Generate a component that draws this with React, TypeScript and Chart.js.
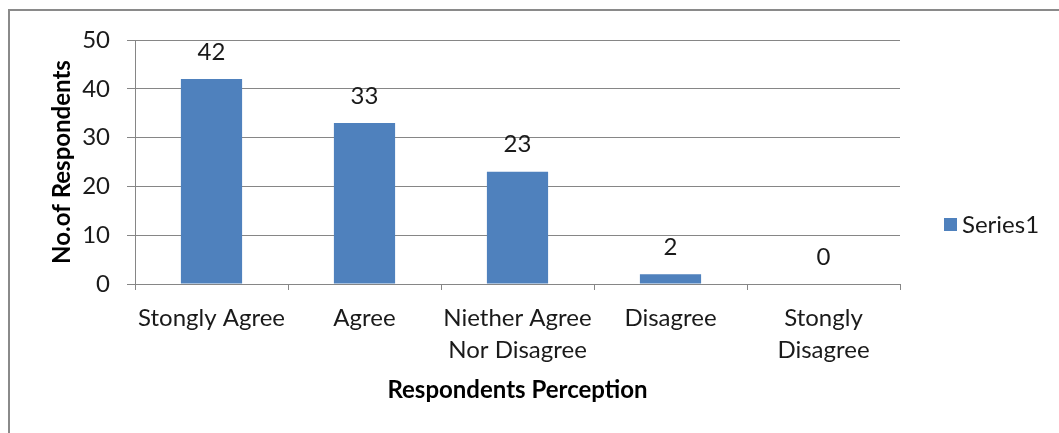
import React, { useEffect, useRef } from "react";
import { Chart, registerables } from "chart.js";

Chart.register(...registerables);

const categories: (string | string[])[] = [
  "Stongly Agree",
  "Agree",
  ["Niether Agree", "Nor Disagree"],
  "Disagree",
  ["Stongly", "Disagree"],
];
const seriesName = "Series1";
const seriesValues = [42, 33, 23, 2, 0];
const yTicks = [0, 10, 20, 30, 40, 50];
const xTitle = "Respondents Perception";
const yTitle = "No.of Respondents";

const FONT = "Lato, 'Open Sans', sans-serif";
const BAR = "#4F81BD";
const GRID = "#868686";
const TEXT = "#1a1a1a";
const FS = 24;

const valueLabels = {
  id: "valueLabels",
  afterDatasetsDraw(chart: any) {
    const ctx = chart.ctx;
    const meta = chart.getDatasetMeta(0);
    ctx.save();
    ctx.font = `${FS}px ${FONT}`;
    ctx.fillStyle = TEXT;
    ctx.textAlign = "center";
    ctx.textBaseline = "middle";
    meta.data.forEach((el: any, i: number) => {
      ctx.fillText(String(chart.data.datasets[0].data[i]), el.x, el.y - 27);
    });
    ctx.restore();
  },
};

const sideLegend = {
  id: "sideLegend",
  afterDraw(chart: any) {
    const ctx = chart.ctx;
    const area = chart.chartArea;
    const cy = (area.top + area.bottom) / 2 + 63;
    ctx.save();
    ctx.fillStyle = BAR;
    ctx.fillRect(944, cy - 7, 13, 13);
    ctx.font = `${FS}px ${FONT}`;
    ctx.fillStyle = TEXT;
    ctx.textAlign = "left";
    ctx.textBaseline = "middle";
    ctx.fillText(chart.data.datasets[0].label, 962, cy);
    ctx.restore();
  },
};

export default function App() {
  const ref = useRef<HTMLCanvasElement>(null);
  useEffect(() => {
    if (!ref.current) return;
    const chart = new Chart(ref.current, {
      type: "bar",
      data: {
        labels: categories,
        datasets: [
          {
            label: seriesName,
            data: seriesValues,
            backgroundColor: BAR,
            borderWidth: 0,
            barPercentage: 0.4,
            categoryPercentage: 1,
          },
        ],
      },
      options: {
        animation: false,
        responsive: false,
        maintainAspectRatio: false,
        layout: { padding: { left: 0, top: 40, right: 159, bottom: 0 } },
        plugins: { legend: { display: false }, tooltip: { enabled: false } },
        scales: {
          x: {
            grid: {
              display: true,
              drawOnChartArea: false,
              drawTicks: true,
              tickLength: 6,
              color: GRID,
              offset: true,
            },
            border: { color: GRID, width: 1 },
            ticks: {
              color: TEXT,
              font: { family: FONT, size: FS, lineHeight: 32 / FS },
              padding: 12,
              maxRotation: 0,
              autoSkip: false,
            },
            title: {
              display: true,
              text: xTitle,
              color: "#000",
              font: { family: FONT, size: FS, weight: "bold", lineHeight: 1.2 },
              padding: { top: 0, bottom: 28.6 },
            },
            afterFit(scale: any) {
              scale.height = 149;
            },
          },
          y: {
            min: 0,
            max: 50,
            afterBuildTicks(scale: any) {
              scale.ticks = yTicks.map((v) => ({ value: v }));
            },
            grid: {
              color: GRID,
              drawTicks: true,
              tickLength: 8,
            },
            border: { color: GRID, width: 1 },
            ticks: {
              color: TEXT,
              font: { family: FONT, size: FS },
              padding: 17,
            },
            title: {
              display: true,
              text: yTitle,
              color: "#000",
              font: { family: FONT, size: FS, weight: "bold", lineHeight: 1.2 },
              padding: { top: 47.6, bottom: 0 },
            },
            afterFit(scale: any) {
              scale.width = 135;
            },
          },
        },
      },
      plugins: [valueLabels, sideLegend],
    });
    return () => chart.destroy();
  }, []);

  return (
    <div
      style={{
        position: "fixed",
        left: 0,
        top: 0,
        width: 1059,
        height: 433,
        background: "#fff",
        overflow: "hidden",
      }}
    >
      <div
        style={{
          position: "absolute",
          left: 8,
          top: 9,
          width: 1200,
          height: 600,
          borderTop: "2px solid #8a8a8a",
          borderLeft: "2px solid #8a8a8a",
        }}
      />
      <canvas
        ref={ref}
        width={1059}
        height={433}
        style={{ position: "absolute", left: 0, top: 0, width: 1059, height: 433 }}
      />
    </div>
  );
}
